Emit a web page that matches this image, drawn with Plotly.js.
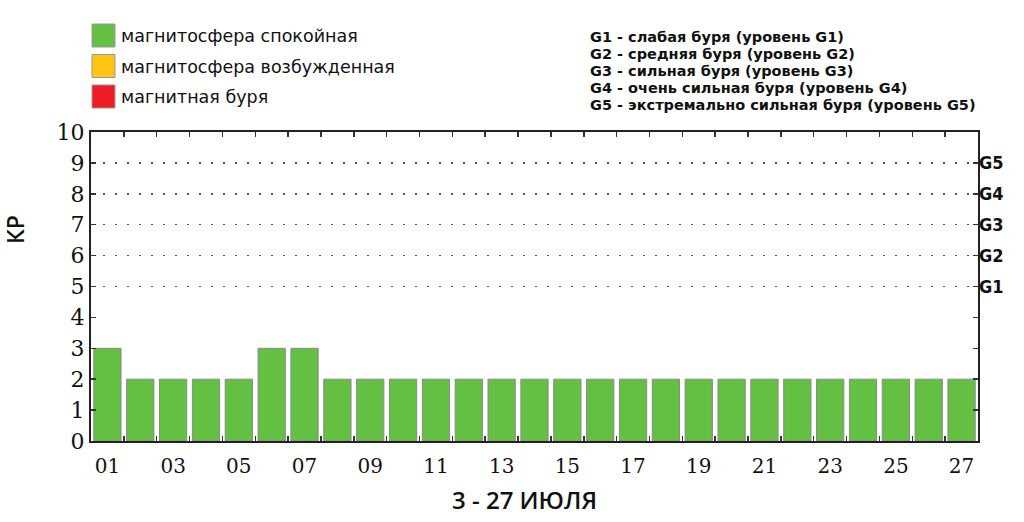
<!DOCTYPE html>
<html><head><meta charset="utf-8">
<script src="https://cdn.plot.ly/plotly-3.0.1.min.js"></script>
<style>html,body{margin:0;padding:0;background:#fff}#chart{width:1024px;height:522px}</style>
</head><body><div id="chart"></div>
<script>
const days = ["01","02","03","04","05","06","07","08","09","10","11","12","13","14","15","16","17","18","19","20","21","22","23","24","25","26","27"];
const kp = [3,2,2,2,2,3,3,2,2,2,2,2,2,2,2,2,2,2,2,2,2,2,2,2,2,2,2];
const legendLabels = ["магнитосфера спокойная","магнитосфера возбужденная","магнитная буря"];
const legendColors = ["#64c043","#ffc414","#ee1c24"];
const stormLevels = [5,6,7,8,9];
const stormLabels = ["G1","G2","G3","G4","G5"];
const stormNotes = [
  "G1 - слабая буря (уровень G1)",
  "G2 - средняя буря (уровень G2)",
  "G3 - сильная буря (уровень G3)",
  "G4 - очень сильная буря (уровень G4)",
  "G5 - экстремально сильная буря (уровень G5)"
];
const xTitle = "3 - 27 ИЮЛЯ";
const yTitle = "КР";

const barColors = kp.map(v => v >= 5 ? legendColors[2] : (v >= 4 ? legendColors[1] : legendColors[0]));

const trace = {
  type: "bar", x: days, y: kp,
  marker: {color: barColors, line: {color: "#8a8a8a", width: 1}},
  hoverinfo: "skip", showlegend: false
};
const trace2 = {
  type: "bar", x: days, y: kp, yaxis: "y2",
  marker: {opacity: 0}, showlegend: false, hoverinfo: "skip"
};

const PL = 91, PR = 978, PT = 132, PB = 441;
const px = v => (v - PL) / (PR - PL);
const py = v => (PB - v) / (PB - PT);

const shapes = [];
const annotations = [];
legendLabels.forEach((t, i) => {
  const y0 = 24 + i * 30.5;
  shapes.push({type: "rect", xref: "paper", yref: "paper",
    x0: px(92), x1: px(115), y0: py(y0 + 23), y1: py(y0),
    fillcolor: legendColors[i], line: {color: "#9a9a9a", width: 1}});
  annotations.push({xref: "paper", yref: "paper", x: px(119), y: py(y0 + 12),
    xanchor: "left", yanchor: "middle", showarrow: false, text: t,
    font: {family: "DejaVu Sans", size: 17.5, color: "#111"}});
});
stormNotes.forEach((t, i) => {
  annotations.push({xref: "paper", yref: "paper", x: px(588), y: py(36.5 + i * 17.2),
    xanchor: "left", yanchor: "middle", showarrow: false, text: t,
    font: {family: "DejaVu Sans", size: 14.5, weight: "bold", color: "#111"}});
});
annotations.push({xref: "paper", yref: "paper", x: px(524), y: py(499),
  xanchor: "center", yanchor: "middle", showarrow: false, text: xTitle,
  font: {family: "Open Sans", size: 24, weight: 600, color: "#111"}});
annotations.push({xref: "paper", yref: "paper", x: px(15), y: py(230), textangle: -90,
  xanchor: "center", yanchor: "middle", showarrow: false, text: yTitle,
  font: {family: "Open Sans", size: 23, weight: 600, color: "#111"}});

const layout = {
  width: 1024, height: 522,
  margin: {l: PL, r: 1024 - PR, t: PT, b: 522 - PB, pad: 0},
  paper_bgcolor: "#fff", plot_bgcolor: "#fff",
  bargap: 0.17,
  xaxis: {
    type: "category", range: [-0.5, 26.5], autorange: false,
    tickvals: days, ticktext: days.map((d, i) => i % 2 === 0 ? d : ""),
    tickangle: 0, ticklabelstandoff: 6,
    tickson: "boundaries", ticks: "inside", ticklen: 5, tickcolor: "#333", tickwidth: 1.5,
    showline: true, linecolor: "#222", linewidth: 2, mirror: "ticks",
    showgrid: false, zeroline: false,
    tickfont: {family: "DejaVu Serif", size: 20, color: "#111"},
    fixedrange: true
  },
  yaxis: {
    range: [0, 10], dtick: 1, tick0: 0,
    ticks: "inside", ticklen: 5, tickcolor: "#333", tickwidth: 1.5,
    showline: true, linecolor: "#222", linewidth: 2, mirror: "ticks",
    showgrid: false, zeroline: false,
    tickfont: {family: "DejaVu Serif", size: 22, color: "#111"},
    fixedrange: true
  },
  yaxis2: {
    overlaying: "y", side: "right", range: [0, 10],
    tickvals: stormLevels, ticktext: stormLabels, ticks: "",
    showgrid: true, gridcolor: "#555", gridwidth: 1.5, griddash: "1.5px,10.5px",
    showline: false, zeroline: false,
    tickfont: {family: "DejaVu Sans Condensed, DejaVu Sans", size: 18, weight: "bold", color: "#111"},
    fixedrange: true
  },
  shapes: shapes,
  annotations: annotations,
  showlegend: false
};

Plotly.newPlot("chart", [trace, trace2], layout, {displayModeBar: false, staticPlot: true});
</script></body></html>
